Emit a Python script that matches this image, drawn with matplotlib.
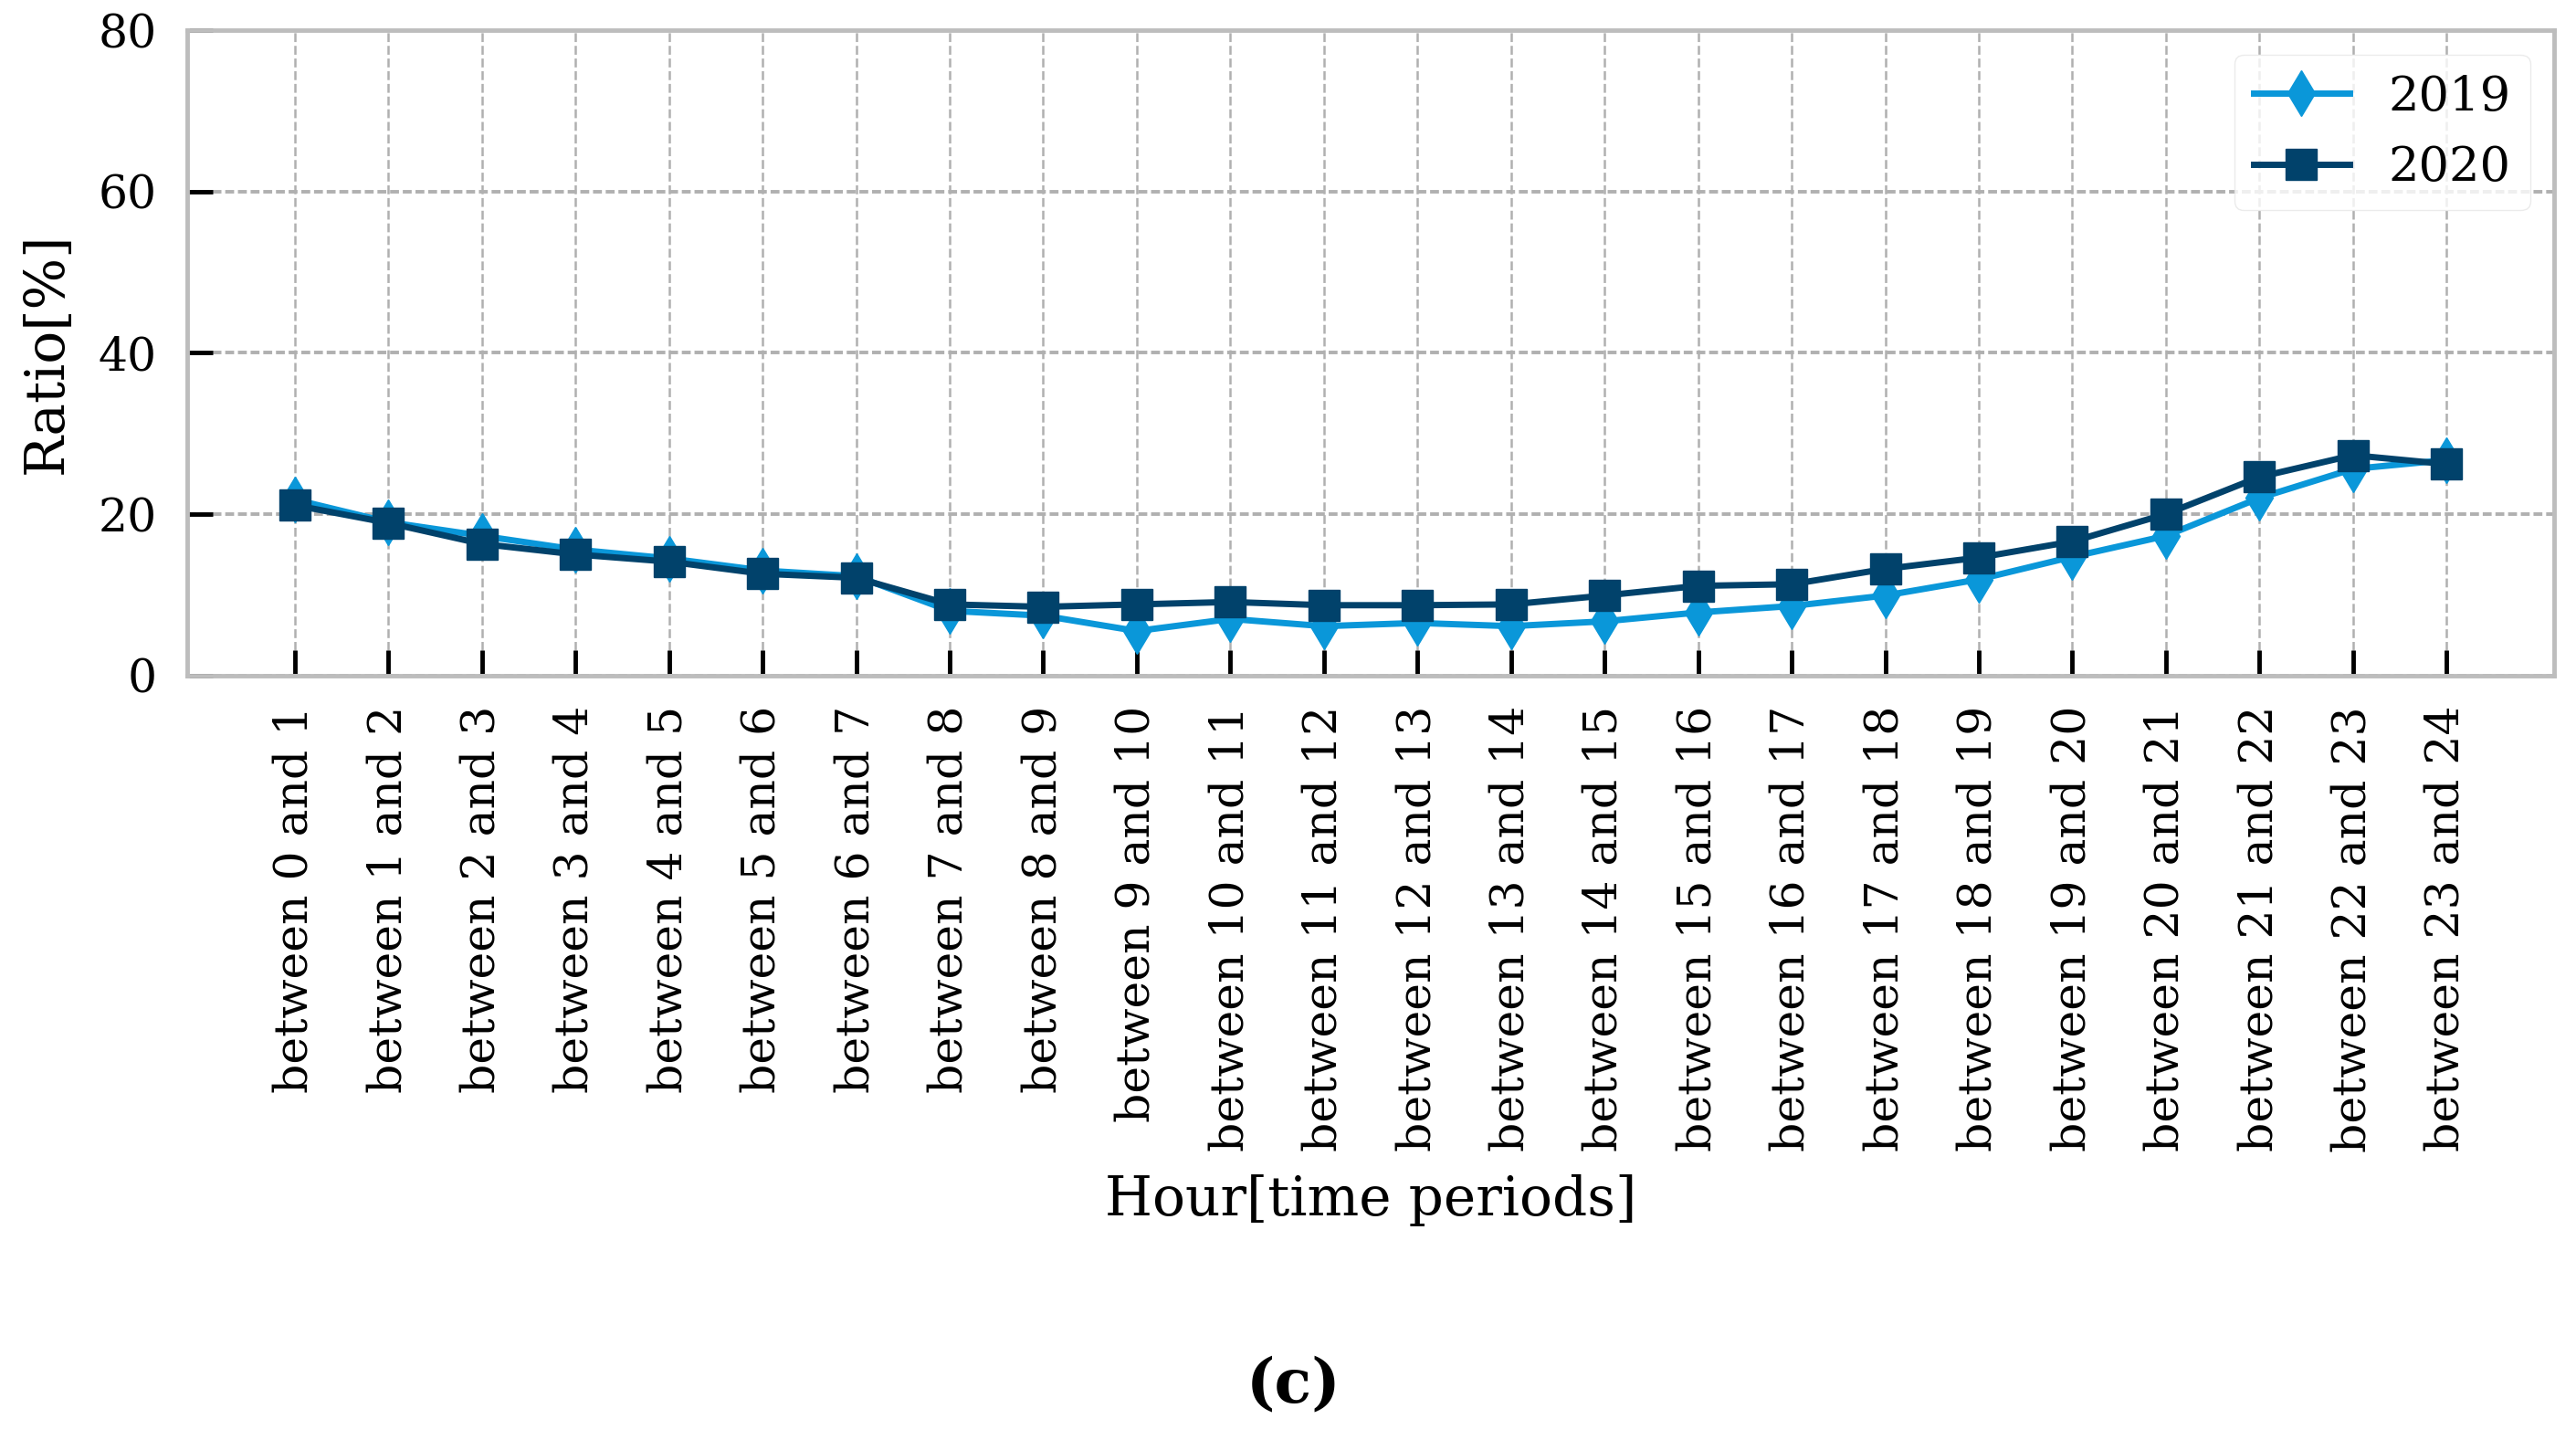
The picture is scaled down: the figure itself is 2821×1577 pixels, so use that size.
import numpy as np
import matplotlib.pyplot as plt

plt.rcParams['font.family'] = 'DejaVu Serif'
plt.rcParams['lines.scale_dashes'] = False

periods = ['between %d and %d' % (h, h + 1) for h in range(24)]
ratio_2019 = [21.8, 19.0, 17.3, 15.6, 14.5, 13.0, 12.3, 8.0, 7.4, 5.5, 7.0, 6.1,
              6.5, 6.1, 6.7, 7.8, 8.6, 9.9, 11.9, 14.7, 17.3, 22.0, 25.6, 26.7]
ratio_2020 = [21.1, 18.9, 16.3, 15.0, 14.1, 12.6, 12.1, 8.8, 8.5, 8.8, 9.1, 8.7,
              8.7, 8.8, 9.9, 11.1, 11.3, 13.2, 14.6, 16.6, 20.0, 24.6, 27.3, 26.2]

c2019 = '#0a97d9'
c2020 = '#01426b'

fig = plt.figure(figsize=(28.21, 15.77), dpi=100)
ax = fig.add_axes([0.0727, 0.531, 0.9188, 0.448])

x = np.arange(len(periods))
ax.plot(x, ratio_2019, color=c2019, lw=5, marker='d', ms=25, label='2019')
ax.plot(x, ratio_2020, color=c2020, lw=5, marker='s', ms=24, label='2020')

ax.set_ylim(0, 80)
ax.set_yticks([0, 20, 40, 60, 80])
ax.set_xticks(x)
ax.set_xticklabels(periods, rotation=90)

ax.grid(axis='x', color='#b0b0b0', ls=(0, (7, 3)), lw=1.8)
ax.grid(axis='y', color='#b0b0b0', ls=(0, (7, 3)), lw=2.8)
ax.set_axisbelow(True)

for s in ax.spines.values():
    s.set_color('#bdbdbd')
    s.set_linewidth(3.5)

ax.tick_params(axis='both', direction='in', length=20, width=3.5,
               color='black', labelsize=36.3, pad=24)

ax.set_xlabel('Hour[time periods]', fontsize=43, labelpad=17)
ax.set_ylabel('Ratio[%]', fontsize=43, labelpad=20)

leg = ax.legend(loc='upper right', fontsize=38, fancybox=True, framealpha=0.8,
                edgecolor='#e6e6e6', borderaxespad=0.5)

fig.text(0.502, 0.038, '(c)', ha='center', va='center', fontsize=48,
         fontweight='bold')

fig.savefig('out.png', dpi=100)
